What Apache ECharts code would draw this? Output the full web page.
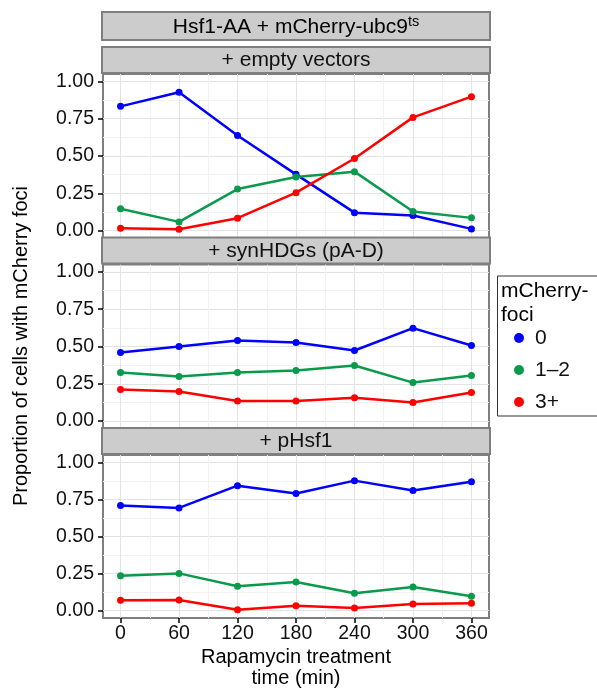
<!DOCTYPE html>
<html>
<head>
  <meta charset="utf-8">
  <title>mCherry foci</title>
  <script src="https://cdn.jsdelivr.net/npm/echarts@6/dist/echarts.min.js"></script>
  <style type="text/css">
    html, body { margin: 0; padding: 0; background: #fff; }
    #main { width: 597px; height: 690px; }
  </style>
</head>
<body>
  <div id="main"></div>
  <script>
    // data
    var times = [0, 60, 120, 180, 240, 300, 360];
    var xTicks = [0, 60, 120, 180, 240, 300, 360];
    var xMinor = [30, 90, 150, 210, 270, 330];
    var yTicks = [0, 0.25, 0.5, 0.75, 1];
    var yMinor = [0.125, 0.375, 0.625, 0.875];
    var panels = ['+ empty vectors', '+ synHDGs (pA-D)', '+ pHsf1'];
    var groups = ['0', '1\u20132', '3+'];
    var colors = ['#0000ff', '#0b9a4b', '#ff0000'];

    // + empty vectors
    var emptyFoci0  = [0.833, 0.927, 0.637, 0.377, 0.120, 0.101, 0.011];
    var emptyFoci12 = [0.146, 0.058, 0.278, 0.359, 0.395, 0.128, 0.085];
    var emptyFoci3  = [0.016, 0.009, 0.083, 0.254, 0.483, 0.759, 0.898];
    // + synHDGs (pA-D)
    var synFoci0  = [0.460, 0.500, 0.541, 0.527, 0.473, 0.623, 0.507];
    var synFoci12 = [0.325, 0.299, 0.325, 0.339, 0.373, 0.258, 0.305];
    var synFoci3  = [0.211, 0.198, 0.135, 0.135, 0.157, 0.124, 0.191];
    // + pHsf1
    var hsfFoci0  = [0.709, 0.693, 0.843, 0.790, 0.877, 0.810, 0.870];
    var hsfFoci12 = [0.235, 0.251, 0.164, 0.193, 0.117, 0.159, 0.097];
    var hsfFoci3  = [0.070, 0.072, 0.005, 0.032, 0.018, 0.045, 0.050];

    var panelData = [
      [emptyFoci0, emptyFoci12, emptyFoci3],
      [synFoci0, synFoci12, synFoci3],
      [hsfFoci0, hsfFoci12, hsfFoci3]
    ];

    var gLeft = 103, gWidth = 386, gHeight = 164;
    var gTops = [74, 264.5, 455];
    var font = '"Liberation Sans", Arial, Helvetica, sans-serif';

    var grids = [], xAxes = [], yAxes = [], series = [], graphics = [];

    gTops.forEach(function (top, p) {
      var last = p === gTops.length - 1;
      grids.push({
        left: gLeft, top: top, width: gWidth, height: gHeight,
        show: true, borderColor: '#7f7f7f', borderWidth: 2, backgroundColor: '#fff'
      });
      // major x
      xAxes.push({
        type: 'value', gridIndex: p, min: -18, max: 378, position: 'bottom',
        axisLine: { show: false, onZero: false },
        axisTick: { show: last, length: 5, customValues: xTicks, lineStyle: { color: '#000', width: 1.5 } },
        axisLabel: { show: last, customValues: xTicks, margin: 6, fontSize: 19.5, color: '#111', fontFamily: font },
        splitLine: { show: true, customValues: xTicks, lineStyle: { color: '#e3e3e3', width: 1 } },
        name: last ? 'Rapamycin treatment\ntime (min)' : '',
        nameLocation: 'middle', nameGap: 29,
        nameTextStyle: { fontSize: 20, color: '#000', fontFamily: font, lineHeight: 21 }
      });
      // minor x
      xAxes.push({
        type: 'value', gridIndex: p, min: -18, max: 378, position: 'top',
        axisLine: { show: false, onZero: false },
        axisTick: { show: false, customValues: xMinor },
        axisLabel: { show: false, customValues: xMinor },
        splitLine: { show: true, customValues: xMinor, lineStyle: { color: '#f2f2f2', width: 1 } }
      });
      // major y
      yAxes.push({
        type: 'value', gridIndex: p, min: -0.05, max: 1.05, position: 'left',
        axisLine: { show: false, onZero: false },
        axisTick: { show: true, length: 5, customValues: yTicks, lineStyle: { color: '#000', width: 1.5 } },
        axisLabel: {
          customValues: yTicks, margin: 9, fontSize: 19.5, color: '#111', fontFamily: font,
          formatter: function (v) { return v.toFixed(2); }
        },
        splitLine: { show: true, customValues: yTicks, lineStyle: { color: '#e3e3e3', width: 1 } }
      });
      // minor y
      yAxes.push({
        type: 'value', gridIndex: p, min: -0.05, max: 1.05, position: 'right',
        axisLine: { show: false, onZero: false },
        axisTick: { show: false, customValues: yMinor },
        axisLabel: { show: false, customValues: yMinor },
        splitLine: { show: true, customValues: yMinor, lineStyle: { color: '#f2f2f2', width: 1 } }
      });

      panelData[p].forEach(function (vals, g) {
        series.push({
          type: 'line', name: groups[g],
          xAxisIndex: p * 2, yAxisIndex: p * 2,
          data: times.map(function (t, k) { return [t, vals[k]]; }),
          color: colors[g],
          symbol: 'circle', symbolSize: 7, showSymbol: true,
          lineStyle: { width: 2.5, color: colors[g] },
          itemStyle: { color: colors[g] },
          z: 5
        });
      });

      // panel strip
      var stripBottom = top - 1;
      graphics.push({
        type: 'rect', z: 10,
        shape: { x: gLeft - 1, y: stripBottom - 26, width: gWidth + 2, height: 26 },
        style: { fill: '#cccccc', stroke: '#7f7f7f', lineWidth: 2 }
      });
      graphics.push({
        type: 'text', z: 11, x: gLeft + gWidth / 2, y: stripBottom - 12.5,
        style: { text: panels[p], font: '21px ' + font, fill: '#111', align: 'center', verticalAlign: 'middle' }
      });
    });

    // overall strip
    graphics.push({
      type: 'rect', z: 10,
      shape: { x: gLeft - 1, y: 12, width: gWidth + 2, height: 28 },
      style: { fill: '#cccccc', stroke: '#7f7f7f', lineWidth: 2 }
    });
    graphics.push({
      type: 'text', z: 11, x: gLeft + gWidth / 2, y: 27,
      style: {
        text: '{a|Hsf1-AA + mCherry-ubc9}{s|ts}',
        align: 'center', verticalAlign: 'middle',
        rich: {
          a: { fontSize: 21, fontFamily: font, color: '#111', lineHeight: 24 },
          s: { fontSize: 14.5, fontFamily: font, color: '#111', verticalAlign: 'top', padding: [0, 0, 11, 0] }
        }
      }
    });

    // y axis title
    graphics.push({
      type: 'text', x: 21, y: 346, rotation: Math.PI / 2,
      style: { text: 'Proportion of cells with mCherry foci', font: '20px ' + font, fill: '#000', align: 'center', verticalAlign: 'middle' }
    });

    // legend box and title
    graphics.push({
      type: 'rect', shape: { x: 497.5, y: 276, width: 110, height: 140 },
      style: { fill: 'none', stroke: '#333', lineWidth: 1 }
    });
    graphics.push({
      type: 'text', x: 501, y: 279,
      style: { text: 'mCherry-\nfoci', font: '21px ' + font, fill: '#000', lineHeight: 24 }
    });

    var myChart = echarts.init(document.getElementById('main'));
    var option = {
      animation: false,
      backgroundColor: '#fff',
      grid: grids,
      xAxis: xAxes,
      yAxis: yAxes,
      series: series,
      legend: {
        data: groups, orient: 'vertical', left: 509, top: 322.5,
        icon: 'circle', itemWidth: 10, itemHeight: 10, itemGap: 11,
        textStyle: { fontSize: 21, color: '#111', fontFamily: font, padding: [0, 0, 0, 6] }
      },
      graphic: graphics
    };
    myChart.setOption(option);
  </script>
</body>
</html>
